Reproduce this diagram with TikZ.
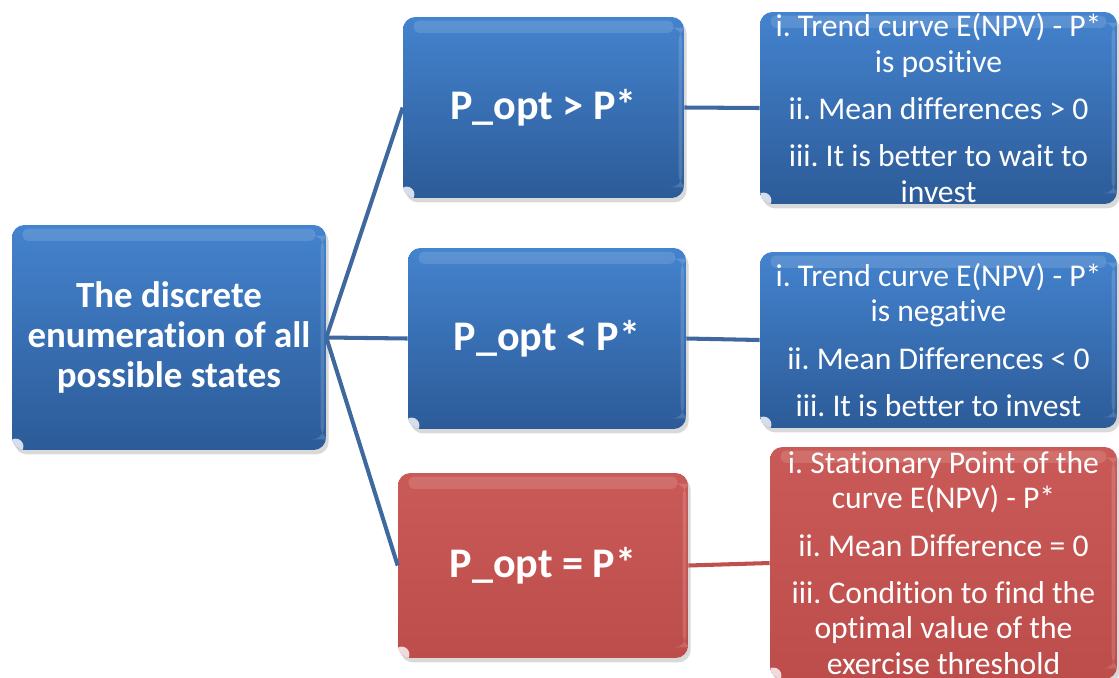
\documentclass[tikz,border=0pt]{standalone}
\usepackage{fontspec}
\setmainfont[RawFeature={-liga;-clig;-dlig;-calt}]{Carlito}
\usetikzlibrary{shadows}
\frenchspacing

\definecolor{blueTop}{RGB}{68,131,206}
\definecolor{blueBot}{RGB}{44,91,152}
\definecolor{redTop}{RGB}{202,90,87}
\definecolor{redBot}{RGB}{189,77,74}
\definecolor{lineBlue}{RGB}{62,104,158}
\definecolor{lineRed}{RGB}{192,80,77}

\begin{document}
\begin{tikzpicture}[x=0.02cm,y=-0.02cm,
  box/.style={rounded corners=7pt,inner sep=0pt,
    drop shadow={shadow xshift=1.5pt,shadow yshift=-2.5pt,opacity=.3},
    path picture={
      % glossy strip at the top and the little spot in the lower left corner
      \fill[white,opacity=.13,rounded corners=3pt]
        ([xshift=6pt,yshift=-2pt]path picture bounding box.north west) rectangle
        ([xshift=-6pt,yshift=-9pt]path picture bounding box.north east);
      \fill[white,opacity=.8]
        ([xshift=2pt,yshift=2pt]path picture bounding box.south west) circle (4.5pt);
      \fill[white,opacity=.15]
        ([xshift=-3pt,yshift=-6pt]path picture bounding box.north east) rectangle
        ([xshift=-1pt,yshift=6pt]path picture bounding box.south east);
    }},
  bluebox/.style={box,top color=blueTop,bottom color=blueBot},
  redbox/.style={box,top color=redTop,bottom color=redBot},
  headtext/.style={text=white,align=center,font=\bfseries\fontsize{21}{23}\selectfont},
  casetext/.style={text=white,align=center,font=\bfseries\fontsize{24}{26}\selectfont},
  listtext/.style={text=white,align=center,font=\fontsize{18}{20}\selectfont},
  link/.style={line width=2.3pt,draw=lineBlue}]

\useasboundingbox (0,0) rectangle (1119,677);
\clip (0,0) rectangle (1119,677);

% root
\node[bluebox,minimum width=6.28cm,minimum height=4.5cm] (root) at (169,337.5) {};
\node[headtext] (rootlbl) at (root) {The discrete\\enumeration of all\\possible states};

% the three cases
\node[bluebox,minimum width=5.62cm,minimum height=3.62cm] (gt) at (543.5,107.5) {};
\node[bluebox,minimum width=5.56cm,minimum height=3.62cm] (lt) at (547,338.5) {};
\node[redbox,minimum width=5.8cm,minimum height=3.7cm] (eq) at (543,565.5) {};
\node[casetext] (gtlbl) at (gt) {P\_opt > P*};
\node[casetext] (ltlbl) at (lt) {P\_opt < P*};
\node[casetext] (eqlbl) at (eq) {P\_opt = P*};

% what each case means
\node[bluebox,minimum width=7.14cm,minimum height=3.84cm] (gtinfo) at (938.5,108) {};
\node[bluebox,minimum width=7.14cm,minimum height=3.52cm] (ltinfo) at (938.5,340) {};
\node[redbox,minimum width=6.94cm,minimum height=4.64cm] (eqinfo) at (943.5,563) {};
\node[listtext] (gtinfolbl) at (gtinfo) {i. Trend curve E(NPV) - P*\\is positive\\[7pt]
  ii. Mean differences > 0\\[7pt]iii. It is better to wait to\\invest};
\node[listtext] (ltinfolbl) at (ltinfo) {i. Trend curve E(NPV) - P*\\is negative\\[7pt]
  ii. Mean Differences < 0\\[7pt]iii. It is better to invest};
\node[listtext] (eqinfolbl) at (eqinfo) {i. Stationary Point of the\\curve E(NPV) - P*\\[7pt]
  ii. Mean Difference = 0\\[7pt]iii. Condition to find the\\optimal value of the\\exercise threshold};

% connectors
\foreach \c in {gt,lt,eq}
  \draw[link] (root.east) -- (\c.west);
\draw[link] (gt.east) -- (gtinfo.west);
\draw[link] (lt.east) -- (ltinfo.west);
\draw[link,draw=lineRed] (eq.east) -- (eqinfo.west);
\end{tikzpicture}
\end{document}
